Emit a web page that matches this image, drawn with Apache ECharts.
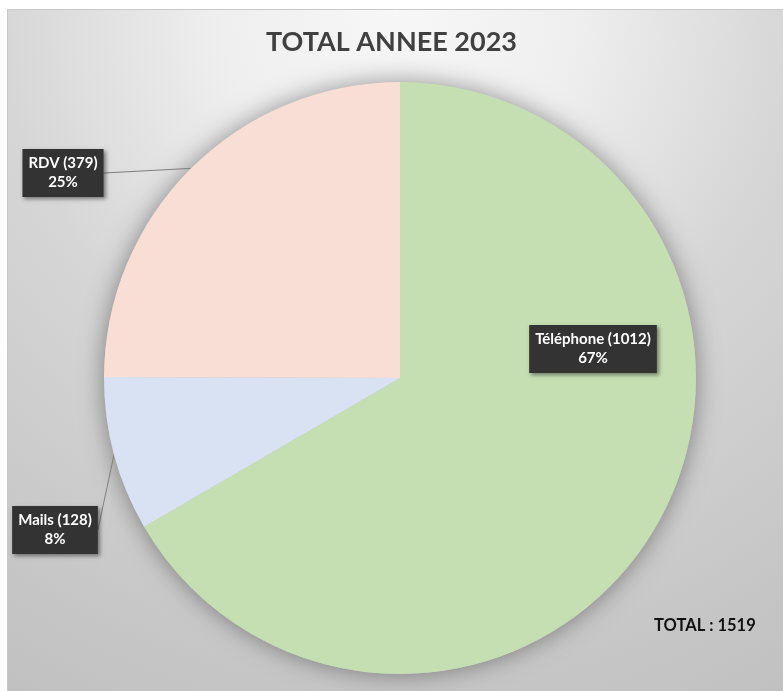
<!DOCTYPE html>
<html>
<head>
<meta charset="utf-8">
<script src="https://cdn.jsdelivr.net/npm/echarts@6/dist/echarts.min.js"></script>
<style>
  html, body { margin: 0; padding: 0; background: #fff; }
  #chart { width: 783px; height: 691px; }
</style>
</head>
<body>
<div id="chart"></div>
<script>
// données
const categories = ['Téléphone', 'Mails', 'RDV']
const values = [1012, 128, 379]
const colors = ['#c5dfb3', '#d9e2f2', '#f9ded5']
const titleText = 'TOTAL ANNEE 2023'

const total = values.reduce((s, v) => s + v, 0)

// position des étiquettes (centre de la boîte)
const labelPos = [
  [593, 349],
  [55, 530],
  [63, 173],
]

const chart = echarts.init(document.getElementById('chart'))

const labelFont = '"Lato", "Open Sans", sans-serif'

const option = {
  animation: false,
  graphic: [
    {
      type: 'rect',
      z: -10,
      shape: { x: 7.5, y: 9.5, width: 780, height: 690 },
      style: {
        fill: new echarts.graphic.RadialGradient(0.5, 0, 1.15, [
          { offset: 0, color: '#f7f7f7' },
          { offset: 0.22, color: '#efefef' },
          { offset: 0.5, color: '#d6d6d6' },
          { offset: 0.85, color: '#c6c6c6' },
          { offset: 1, color: '#c0c0c0' },
        ]),
        stroke: '#c9c9c9',
        lineWidth: 1,
      },
    },
    {
      type: 'text',
      left: 654,
      top: 617,
      style: {
        text: 'TOTAL : ' + total,
        font: 'bold 16.5px ' + labelFont,
        fill: '#111',
      },
    },
  ],
  title: {
    text: titleText,
    left: 'center',
    top: 24,
    textStyle: {
      fontFamily: labelFont,
      fontWeight: 'bold',
      fontSize: 27,
      color: '#404040',
    },
  },
  series: [
    {
      // ombre derrière le camembert
      type: 'pie',
      silent: true,
      z: 1,
      center: [400, 378],
      radius: 296,
      label: { show: false },
      labelLine: { show: false },
      itemStyle: {
        color: '#bbb',
        shadowBlur: 24,
        shadowColor: 'rgba(0,0,0,0.4)',
      },
      data: [{ value: total, name: 'total' }],
    },
    {
      type: 'pie',
      z: 2,
      center: [400, 378],
      radius: 296,
      startAngle: 90,
      clockwise: true,
      itemStyle: { borderWidth: 0 },
      label: {
        show: true,
        position: 'outside',
        overflow: 'none',
        formatter: (p) => `${p.name} (${p.value})\n${Math.round(p.percent)}%`,
        fontFamily: labelFont,
        fontWeight: 'bold',
        fontSize: 15,
        lineHeight: 19,
        color: '#fff',
        align: 'center',
        backgroundColor: '#333',
        padding: [5, 6, 5, 6],
        shadowColor: 'rgba(0,0,0,0.45)',
        shadowBlur: 4,
        shadowOffsetX: 2,
        shadowOffsetY: 2,
      },
      labelLine: {
        show: true,
        length: 0,
        length2: 0,
        lineStyle: { color: '#7f7f7f', width: 1 },
      },
      labelLayout: (params) => {
        const pos = labelPos[params.dataIndex]
        return { x: pos[0], y: pos[1], align: 'center', verticalAlign: 'middle' }
      },
      data: categories.map((name, i) => ({
        name,
        value: values[i],
        itemStyle: { color: colors[i] },
        label: i === 0 ? { position: 'inside' } : undefined,
        labelLine: { show: i !== 0 },
      })),
    },
  ],
}

chart.setOption(option)
</script>
</body>
</html>
